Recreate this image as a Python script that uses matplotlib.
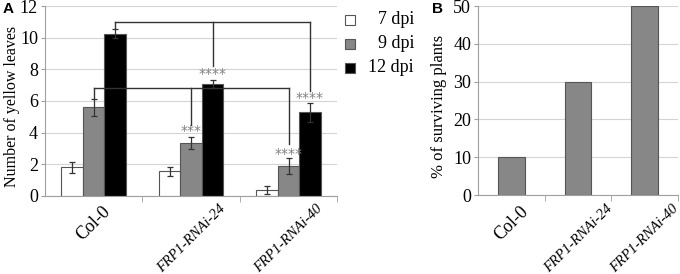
import matplotlib.pyplot as plt
import numpy as np
from matplotlib.patches import Rectangle

plt.rcParams["font.family"] = ["Liberation Serif", "DejaVu Serif"]

# 数据
lines = ["Col-0", "FRP1-RNAi-24", "FRP1-RNAi-40"]
days = ["7 dpi", "9 dpi", "12 dpi"]
leaves_7 = [1.8, 1.55, 0.4]
leaves_9 = [5.6, 3.35, 1.9]
leaves_12 = [10.25, 7.1, 5.3]
err_7 = [0.35, 0.3, 0.25]
err_9 = [0.55, 0.4, 0.5]
err_12 = [0.3, 0.25, 0.6]
survive = [10, 30, 50]

colors = ["white", "#878787", "black"]
grid_c = "#d4d4d4"
spine_c = "#a0a0a0"

fig = plt.figure(figsize=(6.8, 2.74), dpi=100)

# %% 图A
axA = fig.add_axes([0.066, 0.285, 0.43, 0.693])
x = np.arange(len(lines))
w = 0.22
for i, (vals, errs) in enumerate(zip([leaves_7, leaves_9, leaves_12], [err_7, err_9, err_12])):
    axA.bar(x + (i - 1) * w, vals, width=w, color=colors[i], edgecolor="#555555",
            linewidth=0.8, zorder=2, label=days[i])
    axA.errorbar(x + (i - 1) * w, vals, yerr=errs, fmt="none", ecolor="#333333",
                 elinewidth=0.9, capsize=2.2, capthick=0.9, zorder=3)

axA.set_xlim(-0.5, 2.5)
axA.set_ylim(0, 12)
axA.set_yticks(range(0, 13, 2))
axA.yaxis.grid(True, color=grid_c, linewidth=0.8, zorder=0)
axA.set_ylabel("Number of yellow leaves", fontsize=11.5, labelpad=3)
axA.yaxis.set_label_coords(-0.085, 0.47)

# 显著性括号
def bracket(ax, xs, ends, y):
    ax.plot([xs[0], xs[-1]], [y, y], color="#333333", lw=1.0, zorder=4)
    for xi, e in zip(xs, ends):
        ax.plot([xi, xi], [y, e], color="#333333", lw=1.0, zorder=4)

bracket(axA, [x[0] + w, x[1] + w, x[2] + w], [10.6, 8.2, 6.6], 11.0)
bracket(axA, [x[0], x[1], x[2]], [6.2, 4.5, 3.3], 6.8)

stars = [(x[1] + w, 7.25, "****"), (x[1], 3.65, "***"),
         (x[2] + w, 5.75, "****"), (x[2], 2.2, "****")]
for sx, sy, s in stars:
    axA.text(sx, sy, s, ha="center", va="bottom", fontsize=10, color="#808080",
             family="DejaVu Sans", zorder=5)

# %% 图B
axB = fig.add_axes([0.703, 0.288, 0.294, 0.69])
axB.bar(x, survive, width=0.4, color="#878787", edgecolor="#555555", linewidth=0.8, zorder=2)
axB.set_xlim(-0.5, 2.5)
axB.set_ylim(0, 50)
axB.set_yticks(range(0, 51, 10))
axB.yaxis.grid(True, color=grid_c, linewidth=0.8, zorder=0)
axB.set_ylabel("% of surviving plants", fontsize=12, labelpad=4)
axB.yaxis.set_label_coords(-0.155, 0.47)

for ax in (axA, axB):
    for s in ["top", "right"]:
        ax.spines[s].set_visible(False)
    ax.spines["left"].set_color(spine_c)
    ax.spines["bottom"].set_color(spine_c)
    ax.tick_params(axis="y", length=3, color=spine_c, labelsize=13, pad=2)
    ax.set_xticks(x)
    ax.set_xticklabels([])
    ax.tick_params(axis="x", which="major", length=0)
    ax.set_xticks([0.5, 1.5, 2.5], minor=True)
    ax.tick_params(axis="x", which="minor", length=4, color=spine_c, direction="out")
    ax.set_axisbelow(True)
    for xi, lab in zip(x, lines):
        if lab == "Col-0":
            ax.text(xi, -0.04, lab, transform=ax.get_xaxis_transform(), rotation=45,
                    ha="center", va="top", fontsize=13)
        else:
            ax.text(xi, -0.035, lab, transform=ax.get_xaxis_transform(), rotation=45,
                    ha="center", va="top", fontsize=10.5, style="italic")

# 图例
for i, d in enumerate(days):
    y0 = 1 - (20 + 24 * i) / 274
    fig.patches.append(Rectangle((345 / 680, y0 - 5 / 274), 10 / 680, 10 / 274,
                                 transform=fig.transFigure, facecolor=colors[i],
                                 edgecolor="#555555", linewidth=0.8))
    fig.text(414 / 680, y0, d, ha="right", va="center", fontsize=13)

# 面板标号
fig.text(3 / 680, 1 - 9 / 274, "A", fontsize=11, fontweight="bold",
         family="Liberation Sans", va="center")
fig.text(432 / 680, 1 - 9 / 274, "B", fontsize=11, fontweight="bold",
         family="Liberation Sans", va="center")

plt.savefig("out.png", dpi=100)
